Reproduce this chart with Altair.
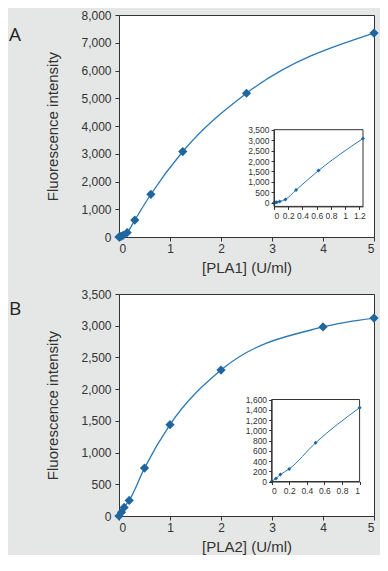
import altair as alt
import pandas as pd

# ---- data ----
pla1_conc = [0, 0.02, 0.04, 0.08, 0.16, 0.31, 0.625, 1.25, 2.5, 5]
pla1_fluor = [0, 10, 25, 60, 160, 610, 1540, 3080, 5180, 7350]
pla2_conc = [0, 0.05, 0.1, 0.2, 0.5, 1, 2, 4, 5]
pla2_fluor = [0, 60, 135, 245, 755, 1440, 2300, 2980, 3120]

main_x_ticks = [0, 1, 2, 3, 4, 5]
a_y_ticks = [0, 1000, 2000, 3000, 4000, 5000, 6000, 7000, 8000]
b_y_ticks = [0, 500, 1000, 1500, 2000, 2500, 3000, 3500]
a_inset_x_ticks = [0, 0.2, 0.4, 0.6, 0.8, 1, 1.2]
a_inset_y_ticks = [0, 500, 1000, 1500, 2000, 2500, 3000, 3500]
b_inset_x_ticks = [0, 0.2, 0.4, 0.6, 0.8, 1]
b_inset_y_ticks = [0, 200, 400, 600, 800, 1000, 1200, 1400, 1600]

BG = "#e4e7e5"
LINE = "#2a78b5"
PT = "#1f66a0"
AXC = "#333333"
FONT = "Liberation Sans"
W, H = 255, 222


def panel(conc, fluor, letter, letter_y, xtitle, ymax, yticks,
          in_xmax, in_ymin, in_ymax, in_xticks, in_yticks, in_xr, in_yr):
    df = pd.DataFrame({"c": conc, "f": fluor})
    dfi = df[df["c"] <= in_xmax + 1e-9]

    xs = alt.Scale(domain=[0, 5], nice=False, zero=False)
    ys = alt.Scale(domain=[0, ymax], nice=False, zero=False)
    x = alt.X("c:Q", scale=xs, axis=alt.Axis(values=main_x_ticks, title=xtitle,
                                             titlePadding=6, labelPadding=2))
    y = alt.Y("f:Q", scale=ys, axis=alt.Axis(values=yticks, format=",d", title="Fluorescence intensity",
                                             titlePadding=20, labelPadding=4))
    base = alt.Chart(df).encode(x=x, y=y)
    main = alt.layer(
        base.mark_line(color=LINE, strokeWidth=1.3, interpolate="monotone"),
        base.mark_point(shape="diamond", filled=True, size=85, color=PT, opacity=1),
    )

    ixs = alt.Scale(domain=[0, in_xmax], range=in_xr, nice=False, zero=False)
    iys = alt.Scale(domain=[in_ymin, in_ymax], range=in_yr, nice=False, zero=False)
    ix_axis = alt.Axis(values=in_xticks, format="~g", title=None, orient="bottom",
                       offset=-(H - in_yr[0]), labelOverlap=False,
                       labelFontSize=8.5, tickSize=3, labelPadding=2, zindex=1)
    iy_axis = alt.Axis(values=in_yticks, format=",d", title=None, orient="left",
                       offset=-in_xr[0], labelOverlap=False,
                       labelFontSize=8.5, tickSize=3, labelPadding=2, zindex=1)
    frame = alt.Chart(pd.DataFrame({"k": [0]})).mark_rect(
        fill="white", stroke=AXC, strokeWidth=1
    ).encode(
        x=alt.datum(0, scale=ixs, axis=ix_axis, type="quantitative"),
        x2=alt.datum(in_xmax),
        y=alt.datum(in_ymin, scale=iys, axis=iy_axis, type="quantitative"),
        y2=alt.datum(in_ymax),
    )
    ibase = alt.Chart(dfi).encode(x=alt.X("c:Q", scale=ixs, axis=ix_axis),
                                  y=alt.Y("f:Q", scale=iys, axis=iy_axis))
    inset = alt.layer(
        frame,
        ibase.mark_line(color=LINE, strokeWidth=1, interpolate="monotone"),
        ibase.mark_point(shape="diamond", filled=True, size=16, color=PT, opacity=1),
    )

    lab = alt.Chart(pd.DataFrame({"t": [letter]})).mark_text(
        align="left", baseline="top", fontSize=19, font="Open Sans", color="#222"
    ).encode(text="t:N", x=alt.value(-110), y=alt.value(letter_y))

    return alt.layer(main, inset, lab).resolve_scale(x="independent", y="independent").properties(
        width=W, height=H
    )


pa = panel(pla1_conc, pla1_fluor, "A", 11, "[PLA1] (U/ml)", 8000, a_y_ticks,
           1.25, -175, 3500, a_inset_x_ticks, a_inset_y_ticks, [155.0, 244.0], [191.4, 114.7])
pb = panel(pla2_conc, pla2_fluor, "B", 6, "[PLA2] (U/ml)", 3500, b_y_ticks,
           1.0, 0, 1600, b_inset_x_ticks, b_inset_y_ticks, [152.6, 240.6], [187.5, 105.5])

chart = alt.vconcat(pa, pb, spacing=11).properties(
    background=BG,
    padding={"left": 0, "top": 0, "right": 0, "bottom": 0},
).configure_view(
    stroke=AXC, strokeWidth=1, fill="white"
).configure_axis(
    grid=False, domainColor=AXC, tickColor=AXC, labelColor="#333", titleColor="#333",
    labelFont=FONT, titleFont=FONT, labelFontSize=12, titleFontSize=15,
    titleFontWeight="normal", tickSize=4,
)

chart.save("out.html", embed_options={"renderer": "svg", "actions": False})
